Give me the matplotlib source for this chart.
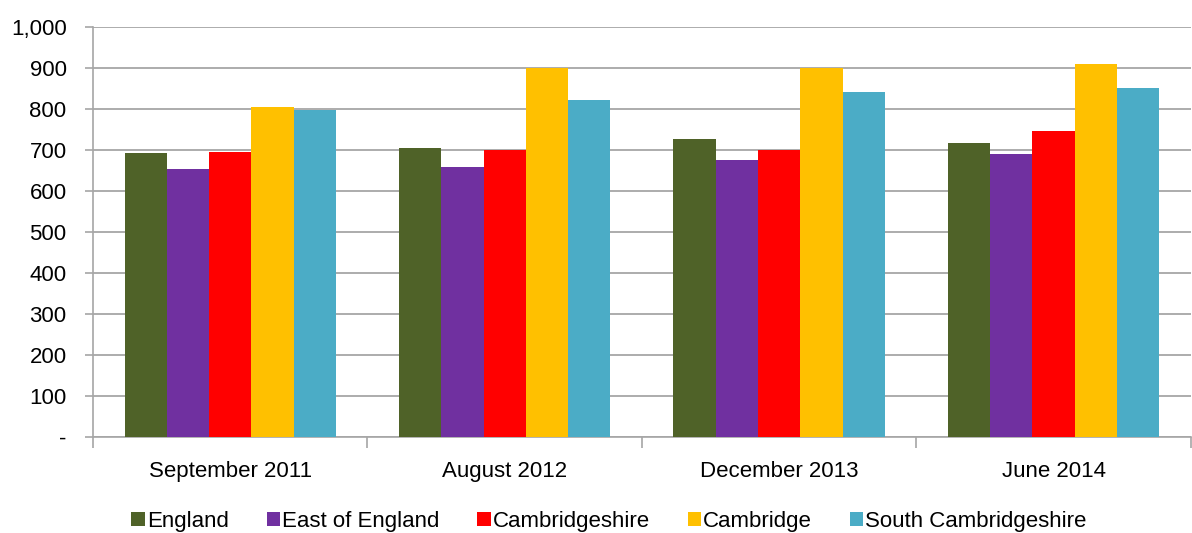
import matplotlib
matplotlib.use("Agg")
import matplotlib.pyplot as plt
import numpy as np
from matplotlib.ticker import FuncFormatter, FixedLocator

categories = ["September 2011", "August 2012", "December 2013", "June 2014"]
series_names = ["England", "East of England", "Cambridgeshire", "Cambridge", "South Cambridgeshire"]
england = [694, 706, 727, 717]
east_of_england = [655, 658, 677, 690]
cambridgeshire = [695, 700, 700, 746]
cambridge = [806, 900, 900, 910]
south_cambridgeshire = [798, 822, 843, 852]
colors = ["#4f6228", "#7030a0", "#ff0000", "#ffc000", "#4bacc6"]

plt.rcParams['font.family'] = ['Liberation Sans', 'DejaVu Sans']

fig = plt.figure(figsize=(11.92, 5.33), dpi=100)
ax = fig.add_axes([0.078, 0.180, 0.921, 0.769])

data = [england, east_of_england, cambridgeshire, cambridge, south_cambridgeshire]
x = np.arange(len(categories))
w = 0.154
for i, (vals, name, c) in enumerate(zip(data, series_names, colors)):
    ax.bar(x + (i - 2) * w, vals, width=w, color=c, label=name, zorder=3)

ax.set_xlim(-0.5, len(categories) - 0.5)
ax.set_ylim(0, 1000)
ax.set_yticks(np.arange(0, 1001, 100))
ax.yaxis.set_major_formatter(FuncFormatter(lambda v, p: "-" if v == 0 else f"{v:,.0f}"))
ax.grid(axis='y', color='#a6a6a6', linewidth=1.3, zorder=0)
ax.set_xticks(x)
ax.set_xticklabels(categories)
ax.xaxis.set_minor_locator(FixedLocator(np.arange(-0.5, len(categories), 1.0)))
ax.tick_params(axis='x', which='major', length=0, pad=17, labelsize=16)
ax.tick_params(axis='x', which='minor', length=8, color='#a6a6a6', width=1.2)
ax.tick_params(axis='y', length=6, color='#a6a6a6', width=1.2, labelsize=16, pad=13)
for s in ['top', 'right']:
    ax.spines[s].set_visible(False)
for s in ['left', 'bottom']:
    ax.spines[s].set_color('#a6a6a6')
    ax.spines[s].set_linewidth(1.2)

fig.legend(loc='center', bbox_to_anchor=(0.511, 0.022), ncol=5, frameon=False,
           fontsize=16, handlelength=0.6, handleheight=0.6, handletextpad=0.1,
           columnspacing=1.7)

fig.savefig("out.png", dpi=100)
